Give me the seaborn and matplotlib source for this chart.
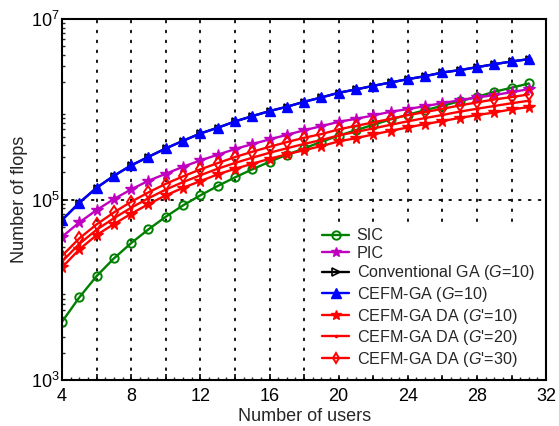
import numpy as np
import pandas as pd
import matplotlib
matplotlib.use("Agg")
import matplotlib.pyplot as plt
from matplotlib.ticker import LogLocator, FixedLocator, MultipleLocator, NullFormatter
import seaborn as sns

# Number of users
users = list(range(4, 32))

# log10 of the number of flops for each detector
sic_log10 = [3.646, 3.916, 4.152, 4.348, 4.518, 4.670, 4.810, 4.936, 5.047, 5.150,
             5.246, 5.335, 5.419, 5.497, 5.567, 5.641, 5.708, 5.770, 5.829, 5.889,
             5.940, 5.992, 6.039, 6.091, 6.139, 6.195, 6.240, 6.287]
pic_log10 = [4.588, 4.747, 4.884, 5.006, 5.113, 5.209, 5.286, 5.364, 5.434, 5.497,
             5.560, 5.615, 5.667, 5.718, 5.768, 5.814, 5.862, 5.895, 5.933, 5.973,
             6.003, 6.036, 6.069, 6.102, 6.132, 6.158, 6.191, 6.224]
cefm_ga_log10 = [4.773, 4.965, 5.131, 5.264, 5.379, 5.474, 5.567, 5.652, 5.733, 5.796,
                 5.866, 5.925, 5.981, 6.029, 6.084, 6.132, 6.184, 6.221, 6.261, 6.298,
                 6.335, 6.368, 6.409, 6.435, 6.468, 6.501, 6.531, 6.557]
# conventional GA has the same cost as CEFM-GA and lies underneath it
conv_ga_log10 = list(cefm_ga_log10)
da10_log10 = [4.249, 4.448, 4.607, 4.729, 4.843, 4.950, 5.047, 5.131, 5.205, 5.279,
              5.341, 5.397, 5.452, 5.501, 5.548, 5.593, 5.645, 5.681, 5.722, 5.762,
              5.800, 5.837, 5.870, 5.906, 5.936, 5.966, 6.000, 6.025]
da20_log10 = [4.313, 4.509, 4.666, 4.794, 4.910, 5.015, 5.111, 5.194, 5.270, 5.342,
              5.406, 5.464, 5.519, 5.569, 5.617, 5.660, 5.712, 5.750, 5.789, 5.829,
              5.868, 5.904, 5.938, 5.975, 6.007, 6.038, 6.068, 6.096]
da30_log10 = [4.377, 4.570, 4.725, 4.858, 4.976, 5.080, 5.175, 5.257, 5.335, 5.404,
              5.471, 5.530, 5.585, 5.637, 5.685, 5.726, 5.778, 5.818, 5.855, 5.895,
              5.936, 5.970, 6.006, 6.044, 6.077, 6.110, 6.136, 6.166]

x_tick_values = list(range(4, 33, 2))
x_tick_labels = [str(v) if v % 4 == 0 else "" for v in x_tick_values]

sns.set_style("ticks")
plt.rcParams["font.family"] = ["Liberation Sans", "DejaVu Sans"]
plt.rcParams["mathtext.fontset"] = "custom"
plt.rcParams["mathtext.rm"] = "Liberation Sans"
plt.rcParams["mathtext.it"] = "Liberation Sans:italic"
plt.rcParams["mathtext.default"] = "regular"

fig = plt.figure(figsize=(5.59, 4.26), dpi=100)
ax = fig.add_axes([0.111, 0.108, 0.866, 0.847])

GREEN, MAGENTA, BLUE, RED = "#008000", "#bf00bf", "#0000ff", "#ff0000"

series = [
    ("SIC", sic_log10, GREEN,
     dict(marker="o", markersize=6, markerfacecolor="none", markeredgewidth=1.4), 6),
    ("PIC", pic_log10, MAGENTA,
     dict(marker="*", markersize=8.5, markeredgewidth=1.0), 7),
    ("Conventional GA ($\\it{G}$=10)", conv_ga_log10, "black",
     dict(marker=">", markersize=4, markerfacecolor="none", markeredgewidth=1.2), 6),
    ("CEFM-GA ($\\it{G}$=10)", cefm_ga_log10, BLUE,
     dict(marker="^", markersize=7.5, markeredgewidth=1.0), 6.5),
    ("CEFM-GA DA ($\\it{G}$'=10)", da10_log10, RED,
     dict(marker="*", markersize=8.5, markeredgewidth=1.0), 7),
    ("CEFM-GA DA ($\\it{G}$'=20)", da20_log10, RED,
     dict(marker=".", markersize=3.5, markeredgewidth=1.0), 3),
    ("CEFM-GA DA ($\\it{G}$'=30)", da30_log10, RED,
     dict(marker="d", markersize=6.5, markerfacecolor="none", markeredgewidth=1.4), 5.5),
]

for label, vals, color, style, _ in series:
    df = pd.DataFrame({"users": users, "flops": np.power(10.0, vals)})
    sns.lineplot(data=df, x="users", y="flops", ax=ax, label=label,
                 color=color, markeredgecolor=color, linewidth=1.7,
                 linestyle="-", **style)

ax.set_yscale("log")
ax.set_xlim(4, 32)
ax.set_ylim(1e3, 1e7)

ax.xaxis.set_major_locator(FixedLocator(x_tick_values))
ax.set_xticklabels(x_tick_labels)
ax.xaxis.set_minor_locator(MultipleLocator(0.5))
ax.yaxis.set_major_locator(FixedLocator([1e3, 1e5, 1e7]))
ax.set_yticklabels(["$10^3$", "$10^5$", "$10^7$"])
ax.yaxis.set_minor_locator(LogLocator(base=10, subs=np.arange(2, 10), numticks=20))
ax.yaxis.set_minor_formatter(NullFormatter())

ax.tick_params(axis="both", which="major", direction="in", length=4, width=1.2,
               labelsize=13, colors="black")
ax.tick_params(axis="x", which="major", pad=6)
ax.tick_params(axis="y", which="major", pad=2)
ax.tick_params(axis="both", which="minor", direction="in", length=2, width=1.0)

ax.grid(True, which="major", color="black", linestyle=(0, (1, 4.5)),
        linewidth=1.3, dash_capstyle="round")

for sp in ax.spines.values():
    sp.set_linewidth(1.5)
    sp.set_color("black")

ax.set_xlabel("Number of users", fontsize=13, labelpad=2)
ax.set_ylabel("Number of flops", fontsize=13, labelpad=2)

leg = ax.legend(loc="lower right", fontsize=11.6, frameon=True, fancybox=False,
                edgecolor="white", facecolor="white", framealpha=1,
                handlelength=1.7, handletextpad=0.45, labelspacing=0.16,
                borderaxespad=0.4, borderpad=0.3)
for handle, (_, _, _, _, legend_ms) in zip(leg.legend_handles, series):
    handle.set_markersize(legend_ms)

fig.savefig("out.png", dpi=100)
